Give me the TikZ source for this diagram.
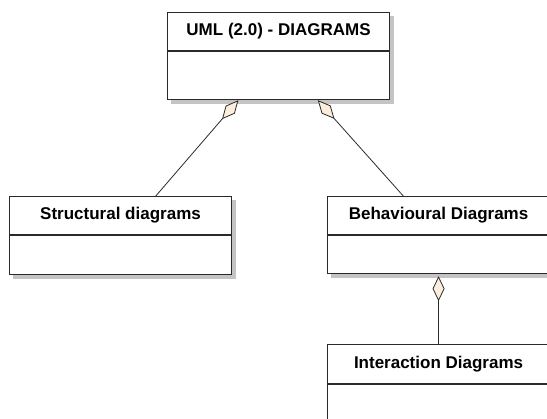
\documentclass[tikz,border=0pt]{standalone}
\usepackage{fontspec}
\setmainfont{Liberation Sans}
\usetikzlibrary{arrows.meta,calc,backgrounds}
\definecolor{boxline}{HTML}{2A2A2A}
\definecolor{shadowgray}{HTML}{C4C4C4}
\definecolor{diamondfill}{HTML}{FBEEDC}
\tikzset{
  classhead/.style={draw=boxline, line width=1.1pt, fill=white, rectangle, inner sep=0pt,
    minimum width=222pt, minimum height=38pt, anchor=north west,
    font=\bfseries\fontsize{17}{19}\selectfont},
  classbody/.style={draw=boxline, line width=1.1pt, fill=white, rectangle, inner sep=0pt,
    minimum width=222pt, anchor=north},
  agg/.style={draw=boxline, line width=0.8pt,
    -{Diamond[length=25pt,width=12pt,fill=diamondfill,line width=0.8pt]}},
  classshadow/.style={fill=shadowgray}
}
\begin{document}
\begin{tikzpicture}[x=1pt,y=1pt]
\useasboundingbox (0,0) rectangle (547,419);
\clip (0,0) rectangle (547,419);
% classes
\node[classhead] (umlh) at (167,407) {UML (2.0) - DIAGRAMS};
\node[classbody, minimum height=48pt] (umlb) at (umlh.south) {};
\node[classhead] (structh) at (9,223) {Structural diagrams};
\node[classbody, minimum height=39pt] (structb) at (structh.south) {};
\node[classhead] (behh) at (327,223) {Behavioural Diagrams};
\node[classbody, minimum height=38pt] (behb) at (behh.south) {};
\node[classhead, minimum height=39pt] (interh) at (327,75) {Interaction Diagrams};
\node[classbody, minimum height=60pt] (interb) at (interh.south) {};
% shadows
\begin{scope}[on background layer]
  \foreach \h/\b in {umlh/umlb, structh/structb, behh/behb, interh/interb}{
    \fill[classshadow] ($(\h.north west)+(4,-4)$) rectangle ($(\b.south east)+(4,-4)$);
  }
\end{scope}
% aggregations
\draw[agg] ($(structh.north west)!0.658!(structh.north east)$) -- ($(umlb.south west)!0.32!(umlb.south east)$);
\draw[agg] ($(behh.north west)!0.342!(behh.north east)$) -- ($(umlb.south west)!0.676!(umlb.south east)$);
\draw[agg] (interh.north) -- ($(behb.south)+(0,-2)$);
\end{tikzpicture}
\end{document}
